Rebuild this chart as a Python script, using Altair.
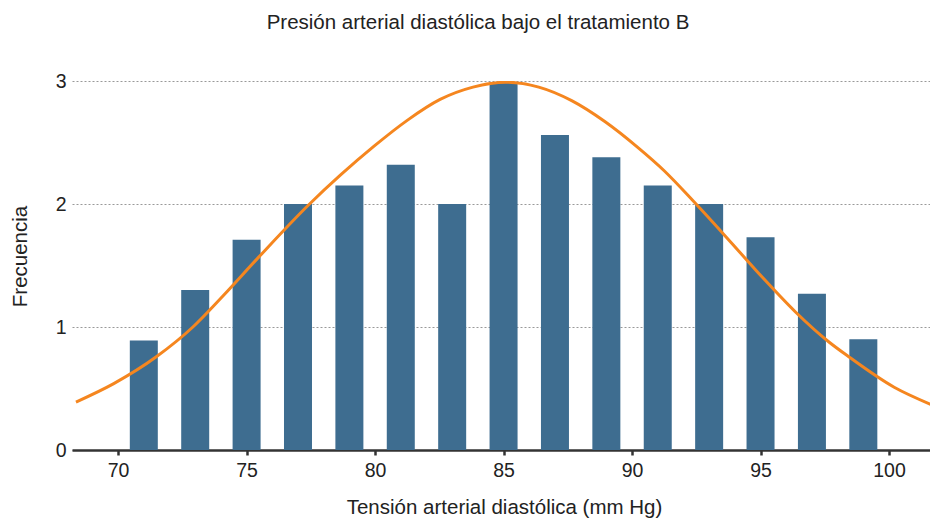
import altair as alt
import pandas as pd

# Histogram bins (centres, mm Hg) and their heights (frequency)
bin_centers = [71, 73, 75, 77, 79, 81, 83, 85, 87, 89, 91, 93, 95, 97, 99]
frequencies = [0.89, 1.30, 1.71, 2.00, 2.15, 2.32, 2.00, 2.99, 2.56, 2.38, 2.15, 2.00, 1.73, 1.27, 0.90]

# Fitted curve, points
curve_x = [68.36, 69.83, 71.5, 72.91, 74.07, 75.48, 77.4, 78.68, 79.96, 81.25, 82.53, 83.81, 85.09,
           86.37, 87.65, 88.94, 90.22, 91.25, 92.4, 93.8, 95.09, 96.37, 97.65, 98.42, 100.2, 101.63]
curve_y = [0.39, 0.54, 0.76, 1.00, 1.25, 1.57, 1.99, 2.24, 2.47, 2.68, 2.85, 2.95, 2.99,
           2.95, 2.84, 2.67, 2.46, 2.27, 2.02, 1.70, 1.40, 1.12, 0.88, 0.76, 0.51, 0.37]

x_ticks = [70, 75, 80, 85, 90, 95, 100]
y_ticks = [0, 1, 2, 3]

bars_df = pd.DataFrame({"tension": bin_centers, "frecuencia": frequencies})
curve_df = pd.DataFrame({"tension": curve_x, "valor": curve_y})

FONT = "Liberation Sans"
TXT = "#222222"

xscale = alt.Scale(domain=[68.40, 101.40], nice=False, zero=False)
yscale = alt.Scale(domain=[0, 3], nice=False)

x_axis = alt.Axis(
    values=x_ticks, format="d", title="Tensión arterial diastólica (mm Hg)", grid=False,
    domainColor="#333333", domainWidth=2.5, tickColor="#333333", tickWidth=2.5, tickSize=5,
    labelFontSize=19.5, labelPadding=6, labelColor=TXT, labelFont=FONT,
    titleFontSize=20.5, titleFontWeight="normal", titleColor=TXT, titleFont=FONT,
    titleX=432, titleY=57, titleBaseline="middle", titleAnchor="start", titleAlign="center",
)
y_axis = alt.Axis(
    values=y_ticks, format="d", title="Frecuencia", grid=True, gridColor="#999999",
    gridDash=[2, 2], gridWidth=1, domain=False, ticks=False, tickSize=0,
    labelFontSize=19.5, labelPadding=6, labelColor=TXT, labelFont=FONT,
    titleFontSize=20.5, titleFontWeight="normal", titleColor=TXT, titleFont=FONT,
    titleX=-52, titleY=175, titleBaseline="middle", titleAlign="center", titleAngle=-90,
)

bars = alt.Chart(bars_df).mark_bar(size=28, color="#3e6d90").encode(
    x=alt.X("tension:Q", scale=xscale, axis=x_axis),
    y=alt.Y("frecuencia:Q", scale=yscale, axis=y_axis),
)

curve = alt.Chart(curve_df).mark_line(
    color="#f5861f", strokeWidth=3, interpolate="monotone", clip=True
).encode(
    x=alt.X("tension:Q", scale=xscale),
    y=alt.Y("valor:Q", scale=yscale),
)

chart = alt.layer(bars, curve).properties(
    width=858,
    height=369,
    title=alt.Title(
        "Presión arterial diastólica bajo el tratamiento B",
        fontSize=20.5, font=FONT, fontWeight="normal", color=TXT,
        anchor="middle", offset=38, dx=-23,
    ),
    autosize=alt.AutoSizeParams(type="none"),
    padding={"left": 64, "top": 73, "right": 0, "bottom": 70},
).configure_view(stroke=None)

chart.save("out.html", embed_options={"renderer": "svg", "actions": False})
